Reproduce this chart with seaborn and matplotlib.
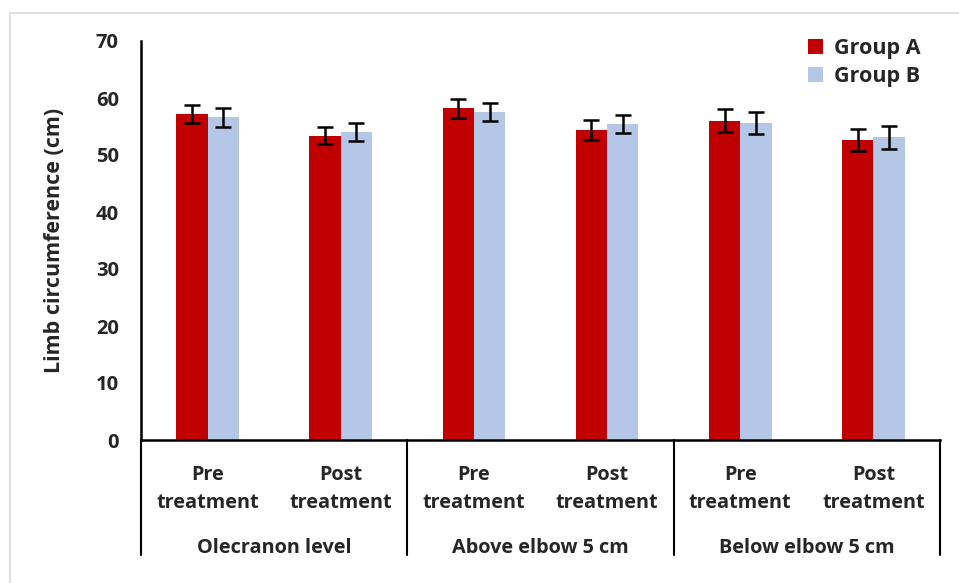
import matplotlib
matplotlib.use("Agg")
import matplotlib.pyplot as plt
import seaborn as sns
import pandas as pd
import numpy as np
from matplotlib.lines import Line2D
from matplotlib.patches import Rectangle
from matplotlib.transforms import blended_transform_factory

# ---- data ----
levels = ["Olecranon level", "Above elbow 5 cm", "Below elbow 5 cm"]
phases = ["Pre\ntreatment", "Post\ntreatment"]
groups = ["Group A", "Group B"]
group_a = [57.2, 53.4, 58.2, 54.4, 56.0, 52.6]
group_b = [56.6, 54.0, 57.6, 55.4, 55.6, 53.1]
err_a = [1.6, 1.5, 1.7, 1.8, 2.0, 1.9]
err_b = [1.7, 1.6, 1.6, 1.6, 2.0, 2.0]
yticks = [0, 10, 20, 30, 40, 50, 60, 70]

cats = [f"{lv}|{ph}" for lv in levels for ph in phases]
df = pd.DataFrame({
    "cat": cats * 2,
    "value": group_a + group_b,
    "err": err_a + err_b,
    "group": [groups[0]] * len(cats) + [groups[1]] * len(cats),
})

sns.set_theme(style="white")
plt.rcParams["font.family"] = ["Open Sans", "DejaVu Sans"]
plt.rcParams["font.weight"] = "bold"

FS = 14.3

fig = plt.figure(figsize=(9.59, 5.83), dpi=100)
# light frame
fig.patches.append(Rectangle((10 / 959, -0.1), 1.2, 1 - 13 / 583 + 0.1,
                             transform=fig.transFigure, fill=False,
                             edgecolor="#d9d9d9", linewidth=1.2))
ax = fig.add_axes([141 / 959, 1 - 440 / 583, (940 - 141) / 959, (440 - 41) / 583])

palette = {"Group A": "#c00000", "Group B": "#b4c7e7"}
sns.barplot(data=df, x="cat", y="value", hue="group", order=cats,
            hue_order=groups, palette=palette, width=0.47,
            errorbar=None, ax=ax, saturation=1, linewidth=0)

errs = {"Group A": err_a, "Group B": err_b}
for cont, g in zip(ax.containers, groups):
    xs = [p.get_x() + p.get_width() / 2 for p in cont.patches]
    hs = [p.get_height() for p in cont.patches]
    ax.errorbar(xs, hs, yerr=errs[g], fmt="none", ecolor="black",
                elinewidth=1.8, capsize=6, capthick=1.8, zorder=5)

ax.set_ylim(0, 70)
ax.set_xlim(-0.5, len(cats) - 0.5)
ax.set_yticks(yticks)
ax.set_yticklabels([str(t) for t in yticks], fontsize=14.5, fontweight="bold")
ax.tick_params(axis="y", length=0, pad=16)
ax.set_xticks(range(len(cats)))
ax.set_xticklabels([c.split("|")[1] for c in cats], fontsize=FS,
                   fontweight="bold", linespacing=1.5)
ax.tick_params(axis="x", length=0, pad=18)
ax.set_xlabel("")
ax.set_ylabel("Limb circumference (cm)", fontsize=15.5, fontweight="bold",
              labelpad=22)

for s in ["top", "right"]:
    ax.spines[s].set_visible(False)
for s in ["left", "bottom"]:
    ax.spines[s].set_linewidth(1.8)
    ax.spines[s].set_color("black")

# group separators and labels
tr = blended_transform_factory(ax.transData, ax.transAxes)
ybot = -(555 - 440) / (440 - 41)
for xb in [-0.5, 1.5, 3.5, 5.5]:
    ax.add_line(Line2D([xb, xb], [0, ybot], transform=tr, color="black",
                       linewidth=1.5, clip_on=False))
for i, lv in enumerate(levels):
    ax.text(2 * i + 0.5, -(548 - 440) / (440 - 41), lv, transform=tr,
            ha="center", va="center", fontsize=FS, fontweight="bold")

leg = ax.legend(loc="upper right", bbox_to_anchor=(1.0, 1.055), frameon=False,
                fontsize=15.5, handlelength=0.7, handleheight=0.7,
                handletextpad=0.5, labelspacing=0.3)
for t in leg.get_texts():
    t.set_fontweight("bold")

fig.savefig("out.png", dpi=100)
